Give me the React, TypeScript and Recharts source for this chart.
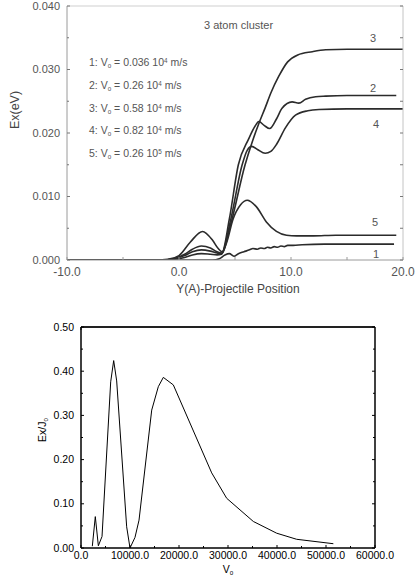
import React from 'react'
import { LineChart, Line, XAxis, YAxis } from 'recharts'

// top panel: Ex(eV) against projectile position, one curve per velocity
const pos1 = [-10, 3.0, 3.6, 4.1, 4.5, 4.9, 5.3, 5.8, 6.3, 6.6, 7.0, 7.3, 7.6, 7.9, 8.2, 8.5, 8.8, 9.1, 9.4, 9.7, 10.2, 11, 13, 19.2]
const ex1 = [0, 0, 0.0002, 0.0008, 0.001, 0.0006, 0.001, 0.0013, 0.0016, 0.0018, 0.0017, 0.0019, 0.0018, 0.002, 0.0019, 0.0021, 0.002, 0.0022, 0.0021, 0.0023, 0.0023, 0.0024, 0.0025, 0.0025]

const pos2 = [-10, -1.5, -0.5, 0.5, 1.2, 2.0, 2.8, 3.4, 3.8, 4.5, 5.3, 6.2, 6.8, 7.13, 7.6, 8.1, 8.7, 9.2, 10.1, 10.7, 11.3, 12.2, 13.1, 15, 19.4]
const ex2 = [0, 0, 0.0001, 0.0004, 0.0008, 0.001, 0.0009, 0.0008, 0.0009, 0.0065, 0.015, 0.019, 0.0211, 0.0218, 0.0212, 0.0207, 0.0222, 0.0239, 0.0249, 0.0247, 0.0253, 0.0257, 0.0258, 0.0259, 0.0259]

const pos3 = [-10, -1.5, -0.5, 0.5, 1.2, 2.0, 2.8, 3.4, 3.8, 4.6, 5.9, 6.5, 7.13, 7.7, 8.2, 8.9, 9.7, 10.6, 11.9, 13.1, 15, 20]
const ex3 = [0, 0, 0.0002, 0.0007, 0.0013, 0.0016, 0.0014, 0.0011, 0.001, 0.0055, 0.015, 0.0184, 0.0215, 0.024, 0.0263, 0.0289, 0.0312, 0.0323, 0.0328, 0.0331, 0.0332, 0.0332]

const pos4 = [-10, -1.5, -0.5, 0.5, 1.2, 2.0, 2.8, 3.4, 3.8, 4.6, 5.64, 6.1, 6.5, 7.0, 7.7, 8.2, 8.7, 9.5, 10.4, 11.5, 12.5, 15, 20]
const ex4 = [0, 0, 0.0002, 0.0009, 0.0017, 0.0022, 0.0019, 0.0013, 0.0011, 0.0062, 0.015, 0.0173, 0.0179, 0.0174, 0.0168, 0.0171, 0.0182, 0.0208, 0.0228, 0.0235, 0.0237, 0.0238, 0.0238]

const pos5 = [-10, -2, -1, 0, 1, 2.1, 3.0, 3.5, 3.85, 4.3, 4.8, 5.5, 6.1, 6.9, 7.8, 8.7, 9.6, 10.5, 12, 14, 19.4]
const ex5 = [0, 0, 0.0001, 0.0007, 0.0028, 0.0045, 0.0031, 0.0018, 0.0013, 0.003, 0.0063, 0.0087, 0.0094, 0.0084, 0.006, 0.0045, 0.0039, 0.0038, 0.0038, 0.0039, 0.0039]

const topXTicks = [-10, -5, 0, 5, 10, 15, 20]
const topYTicks = [0, 0.005, 0.01, 0.015, 0.02, 0.025, 0.03, 0.035, 0.04]

// bottom panel: Ex/Jo against Vo
const vel = [2310, 2920, 3540, 4290, 6060, 6670, 7280, 9320, 10000, 11020, 11840, 14430, 15780, 16800, 18840, 26670, 29730, 35170, 39930, 44010, 51500]
const exJ = [0.004, 0.071, 0.005, 0.026, 0.376, 0.424, 0.378, 0.048, 0.0, 0.024, 0.063, 0.312, 0.365, 0.386, 0.369, 0.17, 0.1125, 0.06, 0.0335, 0.0197, 0.0097]

const botXTicks = [0, 5000, 10000, 15000, 20000, 25000, 30000, 35000, 40000, 45000, 50000, 55000, 60000]
const botYTicks = [0, 0.05, 0.1, 0.15, 0.2, 0.25, 0.3, 0.35, 0.4, 0.45, 0.5]

const zip = (xs: number[], ys: number[]) => xs.map((x, i) => ({ x, y: ys[i] }))
const curves = [zip(pos1, ex1), zip(pos2, ex2), zip(pos3, ex3), zip(pos4, ex4), zip(pos5, ex5)]
const botData = zip(vel, exJ)

const FONT = '"Liberation Sans", Arial, Helvetica, sans-serif'

type TickOpts = {
  side: 'left' | 'right' | 'top' | 'bottom'
  major: (v: number) => boolean
  fmt?: (v: number) => string
  len: number
  minorLen: number
  stroke: string
  fill: string
  fontSize: number
  gap: number
}

// axis sizes are 1px, so the tick x/y handed over sits right on the axis line
function makeTick(o: TickOpts) {
  return (props: any) => {
    const { x, y, payload } = props
    const v = payload.value
    const big = o.major(v)
    const L = big ? o.len : o.minorLen
    let line = null
    let label = null
    if (o.side === 'bottom') {
      line = <line x1={x} y1={y} x2={x} y2={y - L} stroke={o.stroke} />
      if (big && o.fmt) label = <text x={x} y={y + o.gap} dy="0.71em" textAnchor="middle">{o.fmt(v)}</text>
    } else if (o.side === 'top') {
      line = <line x1={x} y1={y} x2={x} y2={y + L} stroke={o.stroke} />
    } else if (o.side === 'left') {
      line = <line x1={x} y1={y} x2={x + L} y2={y} stroke={o.stroke} />
      if (big && o.fmt) label = <text x={x - o.gap} y={y} dy="0.35em" textAnchor="end">{o.fmt(v)}</text>
    } else {
      line = <line x1={x} y1={y} x2={x - L} y2={y} stroke={o.stroke} />
    }
    return (
      <g fontFamily={FONT} fontSize={o.fontSize} fill={o.fill}>
        {line}
        {label}
      </g>
    )
  }
}

const isMult = (v: number, step: number) => Math.abs(v / step - Math.round(v / step)) < 1e-6

const Txt = ({ x, y, children, size = 11, color = '#000', align = 'center', rotate = 0 }: any) => (
  <div
    style={{
      position: 'absolute',
      left: x,
      top: y,
      transform: `translate(${align === 'center' ? '-50%' : '0'}, -50%) rotate(${rotate}deg)`,
      fontFamily: FONT,
      fontSize: size,
      color,
      whiteSpace: 'nowrap',
      lineHeight: 1,
    }}
  >
    {children}
  </div>
)

const sub = (t: string) => <span style={{ fontSize: '0.6em', verticalAlign: '-0.25em' }}>{t}</span>
const sup = (t: string) => <span style={{ fontSize: '0.6em', verticalAlign: '0.55em' }}>{t}</span>

const legend = [
  ['1', '0.036', '4'],
  ['2', '0.26 ', '4'],
  ['3', '0.58 ', '4'],
  ['4', '0.82 ', '4'],
  ['5', '0.26 ', '5'],
]

export default function App() {
  const topGray = '#9a9a9a'
  const curveColor = '#2b2b2b'
  const topText = '#555'
  return (
    <div style={{ position: 'absolute', left: 0, top: 0, width: 416, height: 581, background: '#fff', overflow: 'hidden' }}>
      <LineChart width={416} height={300} margin={{ top: 5, right: 12, bottom: 39, left: 66 }}>
        <XAxis
          dataKey="x"
          type="number"
          domain={[-10, 20]}
          ticks={topXTicks}
          interval={0}
          height={1}
          tickSize={0}
          tickMargin={0}
          tickLine={false}
          axisLine={{ stroke: topGray }}
          tick={makeTick({ side: 'bottom', major: (v) => isMult(v, 10), fmt: (v) => v.toFixed(1), len: 3, minorLen: 3, stroke: topGray, fill: topText, fontSize: 12, gap: 7 })}
          allowDataOverflow
        />
        <XAxis
          xAxisId="t"
          orientation="top"
          type="number"
          domain={[-10, 20]}
          ticks={topXTicks}
          interval={0}
          height={1}
          tickSize={0}
          tickMargin={0}
          tickLine={false}
          axisLine={{ stroke: '#cfcfcf' }}
          tick={makeTick({ side: 'top', major: () => true, len: 3, minorLen: 3, stroke: '#bbb', fill: topText, fontSize: 11, gap: 0 })}
          allowDataOverflow
        />
        <YAxis
          type="number"
          domain={[0, 0.04]}
          ticks={topYTicks}
          interval={0}
          width={1}
          tickSize={0}
          tickMargin={0}
          tickLine={false}
          axisLine={{ stroke: topGray }}
          tick={makeTick({ side: 'left', major: (v) => isMult(v, 0.01), fmt: (v) => v.toFixed(3), len: 3, minorLen: 2, stroke: '#777', fill: topText, fontSize: 11, gap: 7 })}
          allowDataOverflow
        />
        <YAxis
          yAxisId="r"
          orientation="right"
          type="number"
          domain={[0, 0.04]}
          ticks={topYTicks}
          interval={0}
          width={1}
          tickSize={0}
          tickMargin={0}
          tickLine={false}
          axisLine={{ stroke: '#c4c4c4' }}
          tick={makeTick({ side: 'right', major: () => true, len: 3, minorLen: 3, stroke: '#777', fill: topText, fontSize: 11, gap: 0 })}
          allowDataOverflow
        />
        {curves.map((d, i) => (
          <Line
            key={i}
            data={d}
            dataKey="y"
            type="monotone"
            stroke={curveColor}
            strokeWidth={1.6}
            dot={false}
            activeDot={false}
            isAnimationActive={false}
          />
        ))}
      </LineChart>

      <div style={{ position: 'absolute', left: 0, top: 300 }}>
        <LineChart width={416} height={281} data={botData} margin={{ top: 26, right: 40, bottom: 32, left: 80 }}>
          <XAxis
            dataKey="x"
            type="number"
            domain={[0, 60000]}
            ticks={botXTicks}
            interval={0}
            height={1}
            tickSize={0}
            tickMargin={0}
            tickLine={false}
            axisLine={{ stroke: '#000', strokeWidth: 1.5 }}
            tick={makeTick({ side: 'bottom', major: (v) => isMult(v, 10000), fmt: (v) => v.toFixed(1), len: 3, minorLen: 2, stroke: '#000', fill: '#000', fontSize: 10.5, gap: 4 })}
            allowDataOverflow
          />
          <XAxis
            xAxisId="t"
            orientation="top"
            type="number"
            domain={[0, 60000]}
            ticks={botXTicks}
            interval={0}
            height={1}
            tickSize={0}
            tickMargin={0}
            tickLine={false}
            axisLine={{ stroke: '#222', strokeWidth: 2 }}
            tick={makeTick({ side: 'top', major: (v) => isMult(v, 10000), len: 3, minorLen: 2, stroke: '#000', fill: '#000', fontSize: 10.5, gap: 0 })}
            allowDataOverflow
          />
          <YAxis
            type="number"
            domain={[0, 0.5]}
            ticks={botYTicks}
            interval={0}
            width={1}
            tickSize={0}
            tickMargin={0}
            tickLine={false}
            axisLine={{ stroke: '#000', strokeWidth: 1.5 }}
            tick={makeTick({ side: 'left', major: (v) => isMult(v, 0.1), fmt: (v) => v.toFixed(2), len: 3, minorLen: 2, stroke: '#000', fill: '#000', fontSize: 10.5, gap: 7 })}
            allowDataOverflow
          />
          <YAxis
            yAxisId="r"
            orientation="right"
            type="number"
            domain={[0, 0.5]}
            ticks={botYTicks}
            interval={0}
            width={1}
            tickSize={0}
            tickMargin={0}
            tickLine={false}
            axisLine={{ stroke: '#000', strokeWidth: 1.5 }}
            tick={makeTick({ side: 'right', major: (v) => isMult(v, 0.1), len: 3, minorLen: 2, stroke: '#000', fill: '#000', fontSize: 10.5, gap: 0 })}
            allowDataOverflow
          />
          <Line
            dataKey="y"
            type="linear"
            stroke="#000"
            strokeWidth={1}
            dot={false}
            activeDot={false}
            isAnimationActive={false}
          />
        </LineChart>
      </div>

      {/* top panel texts */}
      <Txt x={15} y={110} size={12.5} color="#444" rotate={-90}>Ex(eV)</Txt>
      <Txt x={238} y={289} size={12} color="#444">Y(A)-Projectile Position</Txt>
      <Txt x={204} y={25} size={11} color={topText} align="left">3 atom cluster</Txt>
      {legend.map(([n, v, e], i) => (
        <Txt key={n} x={89} y={63 + i * 22.75} size={10.5} color={topText} align="left">
          {n}: V{sub('o')} = {v} 10{sup(e)} m/s
        </Txt>
      ))}
      <Txt x={373} y={38} size={11} color={topText}>3</Txt>
      <Txt x={373} y={88} size={11} color={topText}>2</Txt>
      <Txt x={376} y={124} size={11} color={topText}>4</Txt>
      <Txt x={375} y={222} size={11} color={topText}>5</Txt>
      <Txt x={376} y={254} size={11} color={topText}>1</Txt>

      {/* bottom panel texts */}
      <Txt x={43} y={430} size={10.5} rotate={-90}>Ex/J{sub('o')}</Txt>
      <Txt x={228} y={570} size={10.5}>V{sub('o')}</Txt>
    </div>
  )
}
